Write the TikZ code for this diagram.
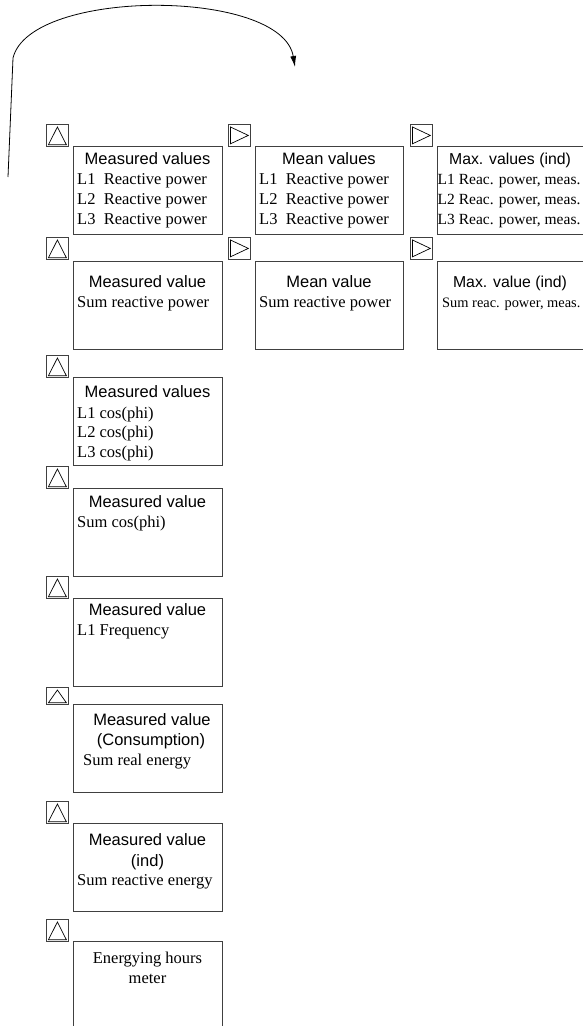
\documentclass[tikz,border=0pt]{standalone}
\usepackage{fontspec}
\setmainfont{Liberation Serif}
\setsansfont{Liberation Sans}
\usetikzlibrary{arrows.meta}

\tikzset{
  valbox/.style={draw=black!75, line width=0.8pt, anchor=north west, inner sep=0pt,
    minimum width=149pt, minimum height=88pt},
  keybox/.style={draw=black!75, line width=0.8pt, anchor=north west, inner sep=0pt,
    minimum width=22pt, minimum height=22pt},
  head/.style={anchor=base, inner sep=0pt, font=\sffamily\fontsize{16.5}{20}\selectfont},
  entry/.style={anchor=base west, inner sep=0pt, font=\fontsize{16.5}{20}\selectfont},
}
\newcommand{\upkey}[3][]{%
  \node [keybox, #1] (#2) at (#3) {};
  \draw [line width=0.7pt] ([shift={(-9pt,2pt)}]#2.south) -- ([shift={(9pt,2pt)}]#2.south)
    -- ([yshift=-3pt]#2.north) -- cycle;}
\newcommand{\rightkey}[2]{%
  \node [keybox] (#1) at (#2) {};
  \draw [line width=0.7pt] ([shift={(2.5pt,-3pt)}]#1.north west) -- ([shift={(2.5pt,3pt)}]#1.south west)
    -- ([xshift=-2.5pt]#1.east) -- cycle;}

\begin{document}
\begin{tikzpicture}[x=1pt, y=-1pt]
\useasboundingbox (0,0) rectangle (583,1026);

% return loop
\coordinate (loopfoot) at (8,177);
\coordinate (loopknee) at (13,58);
\coordinate (looptip) at (295,67);
\draw [line width=0.8pt, -{Latex[length=11pt,width=6pt]}] (loopfoot) -- (loopknee)
  .. controls (30,-12) and (282,-12) .. (looptip);

% keys
\upkey{k1}{46,124}
\upkey{k2}{46,237}
\upkey{k3}{46,355}
\upkey{k4}{46,466}
\upkey{k5}{46,576}
\upkey[minimum height=17pt]{k6}{46,687}
\upkey{k7}{46,801}
\upkey{k8}{46,919}
\rightkey{r1}{228,124}
\rightkey{r2}{228,237}
\rightkey{s1}{410,124}
\rightkey{s2}{410,237}

% row 1
\node [valbox] (mv1) at (73,146) {};
\node [head] (mv1h) at (147.5,164) {Measured values};
\node [entry] (mv1a) at (77,184) {L1\ \ Reactive power};
\node [entry] (mv1b) at (77,204) {L2\ \ Reactive power};
\node [entry] (mv1c) at (77,224) {L3\ \ Reactive power};
\node [valbox, minimum width=148pt] (av1) at (255,146) {};
\node [head] (av1h) at (329,164) {Mean values};
\node [entry] (av1a) at (259,184) {L1\ \ Reactive power};
\node [entry] (av1b) at (259,204) {L2\ \ Reactive power};
\node [entry] (av1c) at (259,224) {L3\ \ Reactive power};
\node [valbox, minimum width=148pt] (xv1) at (437,146) {};
\node [head, font=\sffamily\fontsize{15.8}{20}\selectfont] (xv1h) at (510,164) {Max. values (ind)};
\node [entry, font=\fontsize{15.5}{20}\selectfont] (xv1a) at (437.5,184) {L1 Reac. power, meas.};
\node [entry, font=\fontsize{15.5}{20}\selectfont] (xv1b) at (437.5,204) {L2 Reac. power, meas.};
\node [entry, font=\fontsize{15.5}{20}\selectfont] (xv1c) at (437.5,224) {L3 Reac. power, meas.};

% row 2
\node [valbox] (mv2) at (73,261) {};
\node [head] (mv2h) at (147.5,287) {Measured value};
\node [entry] (mv2a) at (77,307) {Sum reactive power};
\node [valbox, minimum width=148pt] (av2) at (255,261) {};
\node [head] (av2h) at (329,287) {Mean value};
\node [entry] (av2a) at (259,307) {Sum reactive power};
\node [valbox, minimum width=148pt] (xv2) at (437,261) {};
\node [head, font=\sffamily\fontsize{15.8}{20}\selectfont] (xv2h) at (510,287) {Max. value (ind)};
\node [entry, font=\fontsize{14.4}{20}\selectfont] (xv2a) at (442,307) {Sum reac. power, meas.};

% cos(phi)
\node [valbox] (mv3) at (73,377) {};
\node [head] (mv3h) at (147.5,397) {Measured values};
\node [entry] (mv3a) at (77,418) {L1 cos(phi)};
\node [entry] (mv3b) at (77,437) {L2 cos(phi)};
\node [entry] (mv3c) at (77,457) {L3 cos(phi)};
\node [valbox] (mv4) at (73,488) {};
\node [head] (mv4h) at (147.5,507) {Measured value};
\node [entry] (mv4a) at (77,527) {Sum cos(phi)};

% frequency
\node [valbox] (mv5) at (73,598) {};
\node [head] (mv5h) at (147.5,615) {Measured value};
\node [entry] (mv5a) at (77,635) {L1 Frequency};

% energy
\node [valbox] (mv6) at (73,704) {};
\node [head] (mv6h) at (152,725) {Measured value};
\node [head] (mv6i) at (151,745) {(Consumption)};
\node [entry] (mv6a) at (83,765) {Sum real energy};
\node [valbox] (mv7) at (73,823) {};
\node [head] (mv7h) at (147.5,845) {Measured value};
\node [head] (mv7i) at (147.5,866) {(ind)};
\node [entry] (mv7a) at (77,885) {Sum reactive energy};

% hours
\node [valbox] (mv8) at (73,941) {};
\node [head, font=\fontsize{16.5}{20}\selectfont] (mv8h) at (147.5,963) {Energying hours};
\node [head, font=\fontsize{16.5}{20}\selectfont] (mv8i) at (147.5,983) {meter};
\end{tikzpicture}
\end{document}
